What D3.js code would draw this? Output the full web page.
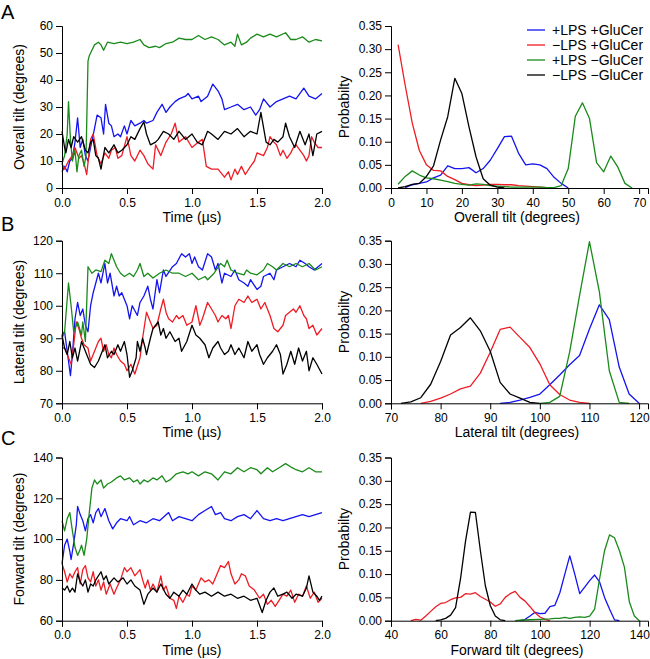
<!DOCTYPE html>
<html>
<head>
<meta charset="utf-8">
<script src="https://cdn.jsdelivr.net/npm/d3@7"></script>
<style>
  body { margin: 0; background: #fff; }
  svg text { font-family: "Liberation Sans", Arial, sans-serif; fill: #000; }
  .axis path, .axis line { stroke: #000; }
</style>
</head>
<body>
<div id="wrapper"></div>
<script>
// ---- data ----
const seriesNames = ["+LPS +GluCer", "\u2212LPS +GluCer", "+LPS \u2212GluCer", "\u2212LPS \u2212GluCer"];
const timeTicks = [0, 0.5, 1, 1.5, 2];
const probTicks = [0, 0.05, 0.1, 0.15, 0.2, 0.25, 0.3, 0.35];

// A: overall tilt vs time  [time (us), degrees]
const overallBlue = [[0,6],[0.02,8],[0.04,6],[0.06,10],[0.08,11],[0.1,17],[0.12,26],[0.14,15],[0.16,18],[0.18,12],[0.2,10],[0.22,15],[0.25,22],[0.27,27],[0.3,26],[0.32,20],[0.335,31],[0.36,24],[0.38,23],[0.4,19],[0.43,20],[0.45,19],[0.48,23],[0.5,20],[0.53,25],[0.56,23],[0.6,24],[0.63,25],[0.65,24],[0.7,25],[0.73,28],[0.77,31],[0.8,28],[0.83,30],[0.87,32],[0.9,33],[0.95,34],[0.97,35],[1.0,33],[1.05,34],[1.07,32],[1.12,34],[1.16,38.5],[1.2,36],[1.23,33],[1.25,29],[1.3,30],[1.35,31],[1.4,29],[1.45,30],[1.49,27],[1.52,29],[1.55,33],[1.6,30],[1.65,32],[1.7,33],[1.75,34],[1.8,33],[1.86,37],[1.9,34],[1.95,33],[2.0,35]];
const overallRed = [[0,9],[0.02,7],[0.05,10],[0.08,12],[0.1,15],[0.13,11],[0.15,12],[0.17,9],[0.19,5],[0.22,18],[0.24,20],[0.27,12],[0.3,9],[0.33,13],[0.36,11],[0.38,14],[0.41,15],[0.43,11],[0.46,12],[0.5,19],[0.53,12],[0.56,10],[0.6,14],[0.63,12],[0.66,9],[0.7,7],[0.72,16],[0.76,12],[0.8,17],[0.84,20],[0.87,24],[0.9,17],[0.95,19],[1.0,15],[1.05,17],[1.08,18],[1.11,8],[1.15,7],[1.2,7],[1.25,4],[1.28,6],[1.3,3],[1.33,7],[1.35,5],[1.38,8],[1.41,5],[1.45,8],[1.48,10],[1.5,13],[1.55,12],[1.58,15],[1.6,19],[1.63,17],[1.65,16],[1.68,12],[1.7,14],[1.73,11],[1.76,13],[1.78,15],[1.8,16],[1.83,14],[1.86,12],[1.88,10],[1.9,12],[1.92,19],[1.94,17],[1.97,15],[2.0,15]];
const overallGreen = [[0,9],[0.02,12],[0.04,20],[0.05,32],[0.065,18],[0.08,10],[0.1,14],[0.115,6],[0.13,12],[0.15,14],[0.17,8],[0.185,12],[0.2,47],[0.21,49],[0.23,51],[0.25,53],[0.28,54],[0.3,53],[0.32,51],[0.35,54],[0.4,53.5],[0.45,54],[0.5,53.5],[0.55,54],[0.6,55],[0.63,53],[0.67,52],[0.72,52.5],[0.75,52],[0.8,53.5],[0.85,54],[0.9,55.5],[0.95,55],[1.0,55],[1.05,56.5],[1.1,55],[1.15,56],[1.2,55],[1.25,53],[1.3,54],[1.33,52.5],[1.35,57],[1.38,53],[1.42,54],[1.45,55.5],[1.5,57],[1.55,56],[1.6,57],[1.65,56],[1.72,57.5],[1.76,55],[1.8,55],[1.85,56],[1.9,54],[1.95,55],[2.0,54.5]];
const overallBlack = [[0,21],[0.02,15],[0.03,13],[0.05,18],[0.07,15],[0.09,19],[0.12,17],[0.15,19],[0.18,14],[0.2,13],[0.22,17],[0.24,18],[0.26,12],[0.28,11],[0.3,7],[0.33,15],[0.36,13],[0.4,16],[0.43,13],[0.46,14],[0.5,16],[0.53,19],[0.56,18],[0.6,22],[0.63,24.5],[0.65,20],[0.68,16],[0.72,17],[0.74,18],[0.78,21],[0.82,20],[0.86,18],[0.9,21],[0.95,18],[1.0,20],[1.04,17],[1.08,16],[1.12,21],[1.15,20],[1.2,18],[1.25,21],[1.3,20],[1.35,22],[1.4,19],[1.45,21],[1.5,20],[1.53,28],[1.57,17],[1.6,16],[1.63,18],[1.66,17],[1.7,19],[1.72,24],[1.75,19],[1.79,15],[1.83,21],[1.87,16],[1.9,20],[1.93,12],[1.96,20],[2.0,21]];

// B: lateral tilt vs time
const lateralBlue = [[0,91],[0.02,92],[0.05,83],[0.065,78.5],[0.08,85],[0.1,96],[0.12,101],[0.14,97],[0.16,99],[0.18,94],[0.2,92],[0.22,100],[0.24,104],[0.26,107],[0.28,110],[0.3,107],[0.33,113],[0.35,107],[0.37,110],[0.4,103],[0.42,106],[0.44,103],[0.46,104],[0.5,100],[0.52,96],[0.54,100],[0.58,97],[0.6,101],[0.63,103],[0.66,106],[0.68,102],[0.7,99],[0.73,108],[0.75,104],[0.78,111],[0.8,109],[0.85,112],[0.88,113],[0.92,116],[0.95,115],[0.98,116],[1.0,113],[1.02,115],[1.05,112],[1.08,111],[1.12,116],[1.15,115],[1.18,111],[1.2,113],[1.23,107],[1.25,110],[1.3,109],[1.33,111],[1.36,108],[1.4,107],[1.43,106],[1.45,108],[1.5,105],[1.53,106],[1.55,109],[1.6,110],[1.63,108],[1.65,111],[1.7,112],[1.75,113],[1.8,112],[1.83,114],[1.87,113],[1.9,112],[1.94,111],[1.97,112],[2.0,113]];
const lateralRed = [[0,87],[0.02,87],[0.05,84],[0.07,82],[0.09,88],[0.11,95],[0.13,93],[0.15,90],[0.17,88],[0.2,87],[0.22,83],[0.24,85],[0.26,87],[0.28,89],[0.3,90],[0.32,86],[0.34,88],[0.36,85],[0.38,84],[0.4,87],[0.42,85],[0.45,83],[0.48,82],[0.5,80],[0.53,82],[0.56,79],[0.6,84],[0.62,90],[0.65,98],[0.67,96],[0.7,93],[0.73,94],[0.76,99],[0.78,102],[0.8,98],[0.82,96],[0.85,95],[0.88,97],[0.9,96],[0.93,97],[0.96,94],[1.0,95],[1.03,100],[1.06,94],[1.08,96],[1.12,101],[1.15,99],[1.18,97],[1.2,95],[1.23,97],[1.26,96],[1.28,97],[1.3,93],[1.33,100],[1.36,102],[1.4,101],[1.43,103],[1.46,101],[1.5,102],[1.53,99],[1.56,101],[1.6,97],[1.63,93],[1.66,92],[1.7,94],[1.72,97],[1.75,98],[1.78,99],[1.8,98],[1.83,100],[1.86,97],[1.88,96],[1.9,93],[1.93,94],[1.96,91],[2.0,93]];
const lateralGreen = [[0,90],[0.02,92],[0.05,107],[0.07,100],[0.09,92],[0.12,95],[0.15,91],[0.16,95],[0.18,89],[0.2,112],[0.23,110],[0.26,111],[0.3,110.5],[0.33,114],[0.36,113],[0.38,116],[0.42,112],[0.45,110],[0.48,109],[0.52,110],[0.55,109],[0.58,111],[0.6,113],[0.63,109],[0.66,110],[0.7,108.5],[0.75,110],[0.8,111],[0.85,110],[0.9,110],[0.95,109],[1.0,110],[1.05,108],[1.1,109],[1.12,108],[1.17,110],[1.22,113],[1.25,112],[1.27,114],[1.3,111],[1.35,110],[1.4,109.5],[1.42,111],[1.45,110],[1.5,109.5],[1.55,111],[1.58,113],[1.62,112],[1.65,111],[1.7,113],[1.75,112],[1.8,113],[1.85,112],[1.9,113],[1.95,111],[2.0,112]];
const lateralBlack = [[0,91],[0.02,87],[0.04,85],[0.06,89],[0.08,84],[0.1,87],[0.12,83],[0.15,89],[0.17,87],[0.2,84],[0.22,82],[0.25,81],[0.28,83],[0.3,85],[0.33,88],[0.35,84],[0.38,86],[0.4,85],[0.43,88],[0.45,86],[0.48,89],[0.5,85],[0.52,78],[0.54,80],[0.57,84],[0.58,89],[0.6,86],[0.62,90],[0.64,87],[0.65,85],[0.68,90],[0.7,93],[0.74,95],[0.76,91],[0.78,93],[0.8,90],[0.83,92],[0.87,89],[0.9,90],[0.92,86],[0.96,89],[1.0,94],[1.03,91],[1.06,90],[1.1,88],[1.13,84],[1.16,87],[1.2,89],[1.22,87],[1.25,85],[1.28,86],[1.3,88],[1.33,85],[1.36,87],[1.4,84],[1.43,89],[1.46,86],[1.5,88],[1.52,85],[1.55,82],[1.58,84],[1.62,86],[1.65,88],[1.68,85],[1.7,79],[1.73,82],[1.76,86],[1.79,82],[1.82,87],[1.85,83],[1.88,86],[1.9,80],[1.93,84],[1.96,82],[2.0,79]];

// C: forward tilt vs time
const forwardBlue = [[0,88],[0.02,97],[0.04,100],[0.06,94],[0.07,90],[0.09,98],[0.11,107],[0.12,116],[0.14,112],[0.16,109],[0.18,104],[0.2,110],[0.22,112],[0.24,108],[0.26,113],[0.28,115],[0.3,111],[0.33,115],[0.36,109],[0.39,105],[0.42,108],[0.45,110],[0.5,109],[0.52,111],[0.55,107],[0.6,109],[0.65,108],[0.7,110],[0.75,109],[0.82,113],[0.85,109],[0.9,111],[0.95,110],[1.0,109],[1.05,112],[1.1,114],[1.15,116],[1.18,112],[1.22,113],[1.25,110],[1.3,109],[1.35,111],[1.4,112],[1.45,110],[1.5,114],[1.55,110],[1.6,109],[1.65,110],[1.7,109],[1.75,110],[1.8,111],[1.85,112],[1.9,111],[1.95,112],[2.0,113]];
const forwardRed = [[0,88],[0.02,84],[0.04,79],[0.06,83],[0.08,81],[0.1,84],[0.12,86],[0.14,78],[0.16,85],[0.18,87],[0.2,81],[0.22,79],[0.24,84],[0.26,77],[0.28,80],[0.3,75],[0.32,79],[0.34,73],[0.37,78],[0.4,73],[0.42,76],[0.45,80],[0.48,86],[0.5,84],[0.53,86],[0.56,82],[0.6,85],[0.62,80],[0.64,76],[0.66,80],[0.68,75],[0.7,78],[0.73,74],[0.76,82],[0.78,75],[0.8,77],[0.83,71],[0.86,70],[0.88,66],[0.9,72],[0.93,69],[0.96,73],[0.98,72],[1.0,77],[1.03,75],[1.07,81],[1.1,79],[1.13,80],[1.16,78],[1.2,84],[1.22,87],[1.25,86],[1.28,89],[1.3,83],[1.33,78],[1.36,80],[1.38,83],[1.41,82],[1.44,77],[1.48,75],[1.52,71],[1.55,73],[1.58,68],[1.61,70],[1.64,67],[1.67,70],[1.7,73],[1.73,72],[1.76,75],[1.79,69],[1.82,73],[1.85,72],[1.88,77],[1.91,71],[1.94,74],[1.97,69],[2.0,71]];
const forwardGreen = [[0,109],[0.02,104],[0.04,110],[0.06,113],[0.08,104],[0.1,96],[0.12,92],[0.14,95],[0.15,97],[0.17,92],[0.19,100],[0.21,113],[0.23,125],[0.25,129],[0.27,127],[0.3,129],[0.32,125],[0.35,127],[0.38,128],[0.42,130],[0.45,131],[0.48,129],[0.52,130],[0.55,128],[0.58,129],[0.6,127],[0.63,129],[0.66,128],[0.7,130],[0.73,129],[0.77,131],[0.8,128],[0.83,129],[0.88,132],[0.93,133],[0.97,132],[1.0,133],[1.05,131],[1.1,133],[1.15,132],[1.2,129],[1.25,133],[1.3,132],[1.35,135],[1.4,133],[1.45,135],[1.5,134],[1.53,132],[1.58,135],[1.62,133],[1.67,135],[1.72,137],[1.77,135],[1.8,134],[1.85,133],[1.9,135],[1.95,133],[2.0,133]];
const forwardBlack = [[0,76],[0.02,75],[0.04,77],[0.06,74],[0.08,76],[0.1,74],[0.12,83],[0.14,79],[0.16,77],[0.18,80],[0.2,74],[0.22,78],[0.24,77],[0.26,80],[0.3,84],[0.32,80],[0.34,82],[0.36,78],[0.4,81],[0.43,79],[0.47,81],[0.5,78],[0.53,80],[0.56,77],[0.6,75],[0.63,68],[0.66,73],[0.7,76],[0.73,74],[0.76,78],[0.8,73],[0.83,71],[0.86,74],[0.9,72],[0.93,75],[0.96,73],[1.0,78],[1.03,75],[1.06,73],[1.1,74],[1.15,72],[1.2,74],[1.25,72],[1.3,73],[1.35,71],[1.4,72],[1.45,70],[1.5,71],[1.54,64],[1.57,70],[1.6,74],[1.63,76],[1.66,72],[1.7,73],[1.73,74],[1.77,71],[1.8,73],[1.85,72],[1.88,76],[1.9,82],[1.93,74],[1.96,72],[1.98,70],[2.0,72]];

// histograms  [degrees, probability]
const overallHistBlue = [[4,0.001],[6,0.007],[8,0.01],[10,0.013],[12,0.022],[14,0.028],[16,0.048],[18,0.042],[20,0.042],[22,0.044],[24,0.033],[26,0.042],[28,0.06],[30,0.085],[32,0.111],[34,0.112],[36,0.075],[38,0.05],[40,0.052],[42,0.05],[44,0.042],[46,0.023],[48,0.01],[50,0]];
const overallHistRed = [[2,0.31],[4,0.222],[6,0.14],[8,0.081],[10,0.05],[12,0.038],[14,0.037],[16,0.025],[18,0.018],[20,0.01],[22,0.007],[24,0.005],[26,0.006],[28,0.008],[30,0.008],[32,0.007],[34,0.007],[36,0.005],[38,0.004],[40,0.003],[42,0.002],[44,0.001],[46,0]];
const overallHistGreen = [[2,0.008],[4,0.025],[6,0.037],[8,0.028],[10,0.022],[12,0.02],[14,0.017],[16,0.014],[18,0.01],[20,0.008],[22,0.006],[24,0.009],[26,0.008],[28,0.005],[30,0.004],[32,0.003],[34,0.002],[36,0.002],[38,0.002],[40,0.002],[42,0.002],[44,0.001],[46,0.001],[48,0.005],[50,0.042],[52,0.155],[54,0.184],[56,0.15],[58,0.055],[60,0.035],[62,0.069],[64,0.045],[66,0.01],[68,0]];
const overallHistBlack = [[2,0],[4,0.003],[6,0.008],[8,0.01],[10,0.025],[12,0.048],[14,0.104],[16,0.154],[18,0.237],[20,0.204],[22,0.132],[24,0.067],[26,0.02],[28,0.006],[30,0.002],[32,0]];

const lateralHistBlue = [[92,0],[94,0.002],[96,0.007],[98,0.013],[100,0.02],[102,0.04],[104,0.061],[106,0.083],[108,0.103],[110,0.16],[112,0.212],[114,0.18],[116,0.078],[118,0.02],[120,0]];
const lateralHistRed = [[76,0],[78,0.004],[80,0.011],[82,0.02],[84,0.031],[86,0.037],[88,0.065],[90,0.11],[92,0.159],[94,0.164],[96,0.142],[98,0.12],[100,0.085],[102,0.04],[104,0.019],[106,0.007],[108,0.002],[110,0]];
const lateralHistGreen = [[100,0],[102,0.002],[104,0.015],[106,0.11],[108,0.232],[110,0.348],[112,0.24],[114,0.07],[116,0.002],[118,0]];
const lateralHistBlack = [[72,0],[74,0.003],[76,0.012],[78,0.041],[80,0.09],[82,0.147],[84,0.163],[86,0.184],[88,0.156],[90,0.112],[92,0.045],[94,0.02],[96,0.011],[98,0.002],[100,0]];

const forwardHistBlue = [[92,0],[94,0.003],[96,0.01],[98,0.018],[100,0.015],[102,0.016],[104,0.03],[106,0.033],[108,0.06],[110,0.1],[112,0.139],[114,0.1],[116,0.058],[118,0.072],[120,0.086],[122,0.098],[124,0.083],[126,0.05],[128,0.025],[130,0.002],[132,0]];
const forwardHistRed = [[48,0],[50,0.003],[52,0.001],[54,0.01],[56,0.02],[58,0.03],[60,0.037],[62,0.039],[64,0.045],[66,0.049],[68,0.05],[70,0.058],[72,0.057],[74,0.06],[76,0.052],[78,0.046],[80,0.04],[82,0.031],[84,0.036],[86,0.05],[88,0.058],[90,0.063],[92,0.05],[94,0.042],[96,0.03],[98,0.017],[100,0.008],[102,0.003],[104,0]];
const forwardHistGreen = [[90,0],[92,0.001],[96,0.002],[100,0.003],[104,0.004],[106,0.005],[108,0.005],[110,0.007],[112,0.005],[114,0.007],[116,0.008],[118,0.007],[120,0.01],[122,0.025],[124,0.09],[126,0.15],[128,0.184],[130,0.178],[132,0.15],[134,0.115],[136,0.04],[138,0.01],[140,0]];
const forwardHistBlack = [[58,0],[60,0.002],[62,0.005],[64,0.012],[66,0.028],[68,0.09],[70,0.17],[72,0.233],[74,0.232],[76,0.15],[78,0.075],[80,0.032],[82,0.01],[84,0.002],[86,0]];

// ---- drawing ----
const colors = ["#1414f0", "#ee1c24", "#1a8a1a", "#000000"];
const width = 650, height = 659;

const svg = d3.select("#wrapper").append("svg")
  .attr("width", width).attr("height", height);

const rows = [
  { letter: "A", letterY: 19, top: 26, bottom: 188,
    tsDomain: [0, 60], tsTicks: d3.range(0, 61, 10), tsLabel: "Overall tilt (degrees)",
    ts: [overallBlue, overallRed, overallGreen, overallBlack],
    hDomain: [0, 72.5], hTicks: d3.range(0, 71, 10), hLabel: "Overall tilt (degrees)",
    hist: [overallHistBlue, overallHistRed, overallHistGreen, overallHistBlack] },
  { letter: "B", letterY: 231, top: 240.7, bottom: 403.3,
    tsDomain: [70, 120], tsTicks: d3.range(70, 121, 10), tsLabel: "Lateral tilt (degrees)",
    ts: [lateralBlue, lateralRed, lateralGreen, lateralBlack],
    hDomain: [70, 121.8], hTicks: d3.range(70, 121, 10), hLabel: "Lateral tilt (degrees)",
    hist: [lateralHistBlue, lateralHistRed, lateralHistGreen, lateralHistBlack] },
  { letter: "C", letterY: 445, top: 457.5, bottom: 620.7,
    tsDomain: [60, 140], tsTicks: d3.range(60, 141, 20), tsLabel: "Forward tilt (degrees)",
    ts: [forwardBlue, forwardRed, forwardGreen, forwardBlack],
    hDomain: [40, 143.5], hTicks: d3.range(40, 141, 20), hLabel: "Forward tilt (degrees)",
    hist: [forwardHistBlue, forwardHistRed, forwardHistGreen, forwardHistBlack] },
];

function styleAxis(g) {
  g.attr("class", "axis");
  g.selectAll("text").style("font-size", "12px");
  g.selectAll("path, line").attr("stroke-width", 1);
}

function addXTitle(text, x, y) {
  svg.append("text").attr("x", x).attr("y", y)
    .attr("text-anchor", "middle").style("font-size", "14px").text(text);
}
function addYTitle(text, x, y) {
  svg.append("text").attr("transform", `translate(${x},${y}) rotate(-90)`)
    .attr("text-anchor", "middle").style("font-size", "14px").text(text);
}

rows.forEach((row) => {
  // panel letter
  svg.append("text").attr("x", 1).attr("y", row.letterY)
    .style("font-size", "20px").text(row.letter);

  // --- time series ---
  const xTime = d3.scaleLinear().domain([0, 2]).range([62, 322]);
  const yTs = d3.scaleLinear().domain(row.tsDomain).range([row.bottom, row.top]);

  const line = d3.line().x((d) => xTime(d[0])).y((d) => yTs(d[1]));
  row.ts.forEach((s, i) => {
    svg.append("path").datum(s).attr("d", line)
      .attr("fill", "none").attr("stroke", colors[i])
      .attr("stroke-width", 1.3).attr("stroke-linejoin", "round");
  });

  svg.append("g").attr("transform", `translate(0,${row.bottom})`)
    .call(d3.axisBottom(xTime).tickValues(timeTicks).tickFormat(d3.format(".1f"))
      .tickSizeOuter(0).tickSize(6).tickPadding(4))
    .call(styleAxis);
  svg.append("g").attr("transform", "translate(62,0)")
    .call(d3.axisLeft(yTs).tickValues(row.tsTicks).tickSizeOuter(0).tickSize(6).tickPadding(3))
    .call(styleAxis);

  addXTitle("Time (\u00b5s)", 192, row.bottom + 34);
  addYTitle(row.tsLabel, 24, (row.top + row.bottom) / 2);

  // --- histogram ---
  const xH = d3.scaleLinear().domain(row.hDomain).range([391, 648]);
  const yH = d3.scaleLinear().domain([0, 0.35]).range([row.bottom, row.top]);
  const hline = d3.line().x((d) => xH(d[0])).y((d) => yH(d[1]));
  row.hist.forEach((s, i) => {
    svg.append("path").datum(s).attr("d", hline)
      .attr("fill", "none").attr("stroke", colors[i])
      .attr("stroke-width", 1.3).attr("stroke-linejoin", "round");
  });

  svg.append("g").attr("transform", `translate(0,${row.bottom})`)
    .call(d3.axisBottom(xH).tickValues(row.hTicks).tickSizeOuter(0).tickSize(6).tickPadding(4))
    .call(styleAxis);
  svg.append("g").attr("transform", "translate(391,0)")
    .call(d3.axisLeft(yH).tickValues(probTicks).tickFormat(d3.format(".2f"))
      .tickSizeOuter(0).tickSize(6).tickPadding(3))
    .call(styleAxis);

  addXTitle(row.hLabel, 517, row.bottom + 34);
  addYTitle("Probabilty", 349, (row.top + row.bottom) / 2);
});

// legend (panel A, right)
const legend = svg.append("g").attr("transform", "translate(527,30)");
seriesNames.forEach((name, i) => {
  const g = legend.append("g").attr("transform", `translate(0,${i * 15})`);
  g.append("line").attr("x1", 0).attr("x2", 18).attr("y1", 0).attr("y2", 0)
    .attr("stroke", colors[i]).attr("stroke-width", 1.3);
  g.append("text").attr("x", 25).attr("y", 5).style("font-size", "14px").text(name);
});
</script>
</body>
</html>
